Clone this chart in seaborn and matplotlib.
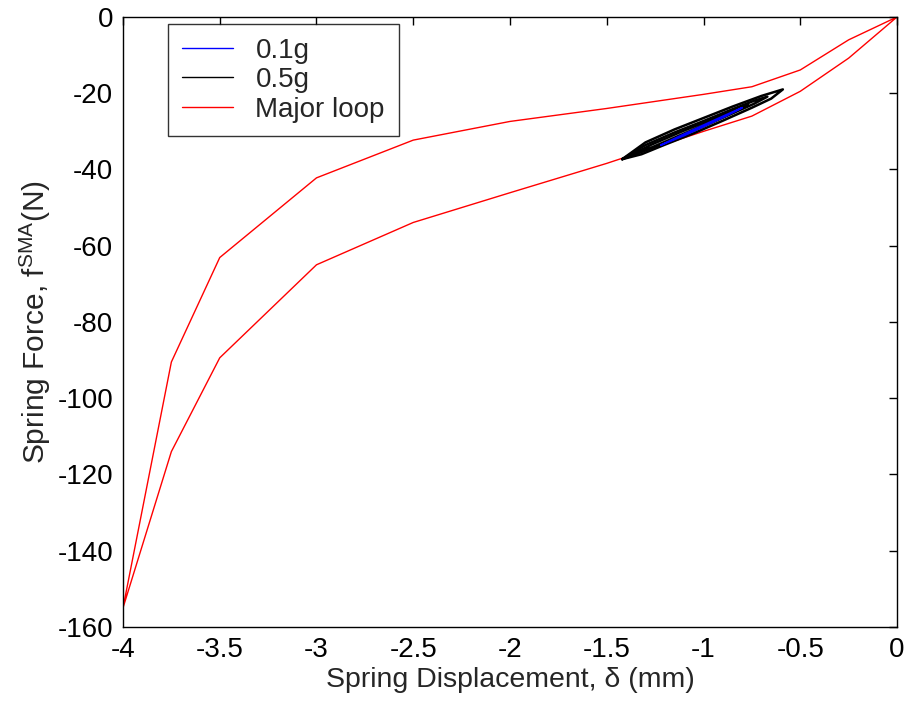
import numpy as np
import pandas as pd
import matplotlib
matplotlib.use("Agg")
import matplotlib.pyplot as plt
import seaborn as sns
from matplotlib.lines import Line2D

# ---- data ----
major_x = [0, -0.25, -0.5, -0.75, -1.0, -1.25, -1.5, -2.0, -2.5, -3.0, -3.5, -3.75, -4.0,
           -3.75, -3.5, -3.0, -2.5, -2.0, -1.5, -1.0, -0.75, -0.5, -0.25, 0]
major_y = [0, -10.8, -19.5, -26.0, -30.0, -34.2, -38.4, -46.1, -53.9, -65.0, -89.4, -114.0, -155.0,
           -90.5, -63.1, -42.2, -32.3, -27.4, -24.0, -20.3, -18.3, -13.9, -6.0, 0]

# 0.5g minor loops (three nested loops)
g05_loop1_x = [-1.42, -1.30, -1.15, -1.00, -0.85, -0.70, -0.59, -0.65, -0.75, -0.90, -1.05, -1.20, -1.32, -1.42]
g05_loop1_y = [-37.3, -32.9, -29.5, -26.5, -23.5, -20.7, -19.0, -21.4, -23.8, -27.2, -30.5, -33.5, -36.0, -37.3]
g05_loop2_x = [-1.42, -1.30, -1.15, -1.00, -0.86, -0.74, -0.67, -0.74, -0.86, -1.00, -1.15, -1.30, -1.42]
g05_loop2_y = [-37.3, -33.6, -30.3, -27.3, -24.4, -22.0, -20.9, -22.8, -25.5, -28.7, -31.9, -35.0, -37.3]
g05_loop3_x = [-1.40, -1.27, -1.12, -0.98, -0.86, -0.77, -0.86, -0.98, -1.12, -1.27, -1.40]
g05_loop3_y = [-36.9, -33.5, -30.2, -27.3, -24.9, -23.0, -25.4, -28.0, -31.0, -34.3, -36.9]

# 0.1g minor loop
g01_x = [-1.22, -1.10, -0.98, -0.88, -0.80, -0.88, -0.98, -1.10, -1.22]
g01_y = [-33.6, -30.7, -27.9, -25.6, -23.8, -25.9, -28.3, -31.1, -33.6]

legend_labels = ["0.1g", "0.5g", "Major loop"]

# ---- tidy frames ----
df_major = pd.DataFrame({"x": major_x, "y": major_y, "unit": 0})
df_05 = pd.concat([
    pd.DataFrame({"x": g05_loop1_x, "y": g05_loop1_y, "unit": 1}),
    pd.DataFrame({"x": g05_loop2_x, "y": g05_loop2_y, "unit": 2}),
    pd.DataFrame({"x": g05_loop3_x, "y": g05_loop3_y, "unit": 3}),
], ignore_index=True)
df_01 = pd.DataFrame({"x": g01_x, "y": g01_y, "unit": 0})

sns.set_theme(style="white")
plt.rcParams["font.family"] = ["Liberation Sans", "DejaVu Sans"]
plt.rcParams["mathtext.default"] = "regular"
plt.rcParams["mathtext.fontset"] = "custom"
plt.rcParams["mathtext.rm"] = "Liberation Sans"

FS = 20

fig = plt.figure(figsize=(9.07, 7.04), dpi=100)
ax = fig.add_axes([0.1356, 0.1094, 0.8534, 0.8665])

sns.lineplot(data=df_major, x="x", y="y", units="unit", estimator=None, sort=False,
             color="#ff0000", linewidth=1.0, ax=ax, legend=False)
sns.lineplot(data=df_05, x="x", y="y", units="unit", estimator=None, sort=False,
             color="black", linewidth=1.8, ax=ax, legend=False)
sns.lineplot(data=df_01, x="x", y="y", units="unit", estimator=None, sort=False,
             color="#0000ff", linewidth=1.3, ax=ax, legend=False)

handles = [Line2D([], [], color="#0000ff", lw=1.0),
           Line2D([], [], color="black", lw=1.0),
           Line2D([], [], color="#ff0000", lw=1.0)]
leg = ax.legend(handles, legend_labels, loc="upper left",
                bbox_to_anchor=(0.058, 0.9885), fontsize=FS, frameon=True, fancybox=False,
                handlelength=1.85, handletextpad=0.8, labelspacing=0.12,
                borderpad=0.5, borderaxespad=0)
leg.get_frame().set_edgecolor("black")
leg.get_frame().set_linewidth(1.0)

ax.set_xlim(-4, 0)
ax.set_ylim(-160, 0)
ax.set_xticks(np.arange(-4, 0.01, 0.5))
ax.set_xticklabels(["-4", "-3.5", "-3", "-2.5", "-2", "-1.5", "-1", "-0.5", "0"])
ax.set_yticks(np.arange(-160, 1, 20))
ax.set_yticklabels([str(v) for v in range(-160, 1, 20)])
ax.tick_params(direction="in", length=6, width=1, top=True, right=True,
               labelsize=FS, colors="black", pad=7)
for s in ax.spines.values():
    s.set_color("black")
    s.set_linewidth(1.0)

ax.set_xlabel("Spring Displacement, δ (mm)", fontsize=20.5, labelpad=3)
ax.set_ylabel("Spring Force, f$^{SMA}$(N)", fontsize=21.5, labelpad=3)

fig.savefig("out.png", dpi=100)
